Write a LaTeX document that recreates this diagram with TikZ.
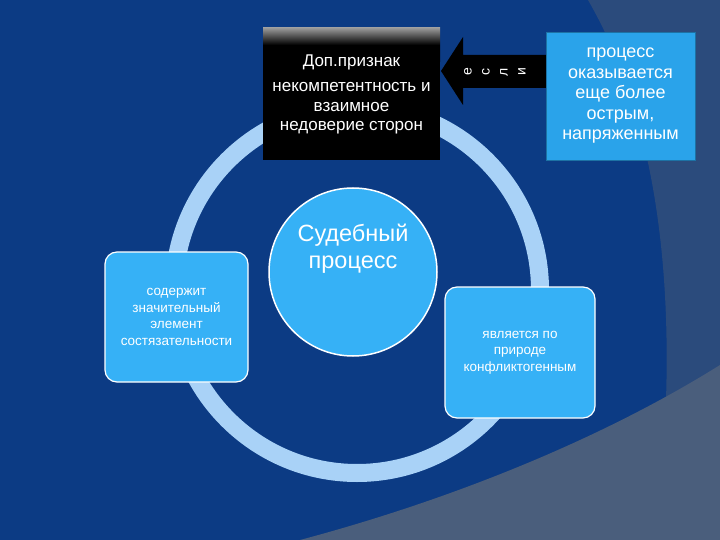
\documentclass[tikz,border=0pt]{standalone}
\usepackage{fontspec}
\setmainfont{Liberation Sans}
\definecolor{bgA}{HTML}{0C3B84}
\definecolor{bgB}{HTML}{2B4B7C}
\definecolor{bgC}{HTML}{4A5E7C}
\definecolor{ring}{HTML}{A9D2F7}
\definecolor{boxc}{HTML}{36B1F6}
\definecolor{boxd}{HTML}{2AA3EA}
\begin{document}
\begin{tikzpicture}[x=1pt,y=-1pt,
  rbox/.style={draw=white,line width=1.2pt,fill=boxc,rounded corners=12pt,text=white,align=center,font=\fontsize{13.5}{16.5}\selectfont},
  tx/.style={text=white,align=center}]
\useasboundingbox (0,0) rectangle (720,540);
\fill[bgA] (0,0) rectangle (720,540);
\fill[bgB] (588,0) .. controls (640,90) and (690,250) .. (655,540) -- (720,540) -- (720,0) -- cycle;
\fill[bgC] (300,540) .. controls (450,500) and (600,440) .. (720,365) -- (720,540) -- cycle;
\draw[ring,line width=18pt] (357,290) circle (183);
% center circle
\node[circle,draw=white,line width=1.5pt,fill=boxc,minimum size=168pt,inner sep=0] (c) at (353,272) {};
\node[tx,font=\fontsize{23.5}{27}\selectfont] (ct) at (353,272) {Судебный\\процесс\\[24pt]};
% left box
\node[rbox,minimum width=143pt,minimum height=130pt] (l) at (176.5,317) {содержит\\значительный\\элемент\\состязательности};
% right box
\node[rbox,minimum width=150pt,minimum height=131pt] (r) at (520,352.5) {является по\\природе\\конфликтогенным};
% black box
\shade[top color=gray!80,bottom color=black,middle color=black] (263,28) rectangle (440,62);
\fill[black] (263,62) rectangle (440,160);
\node[minimum width=177pt,minimum height=132pt,inner sep=0] (b) at (351.5,94) {};
\node[tx,font=\fontsize{17}{20}\selectfont] (b1) at (351.5,62) {Доп.признак};
\node[tx,font=\fontsize{17}{19.5}\selectfont,anchor=north] (b2) at (351.5,79) {некомпетентность и\\взаимное\\недоверие сторон};
% arrow
\fill[black] (441,71) -- (463,37) -- (463,55) -- (553,55) -- (553,88) -- (463,88) -- (463,105) -- cycle;
\foreach \l/\xx [count=\i] in {е/468,с/486,л/504,и/522}
  \node[tx,rotate=90,font=\fontsize{14}{16}\selectfont] (a\i) at (\xx,72) {\l};
% top right box
\node[draw=boxd!70!black,line width=0.6pt,fill=boxd,minimum width=149pt,minimum height=128pt,tx,font=\fontsize{18}{20.5}\selectfont] (tr) at (620.5,96) {процесс\\оказывается\\еще более\\острым,\\напряженным};
\end{tikzpicture}
\end{document}
